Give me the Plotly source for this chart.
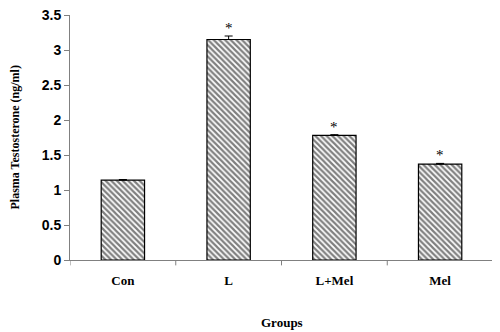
import plotly.graph_objects as go

groups = ["Con", "L", "L+Mel", "Mel"]
values = [1.14, 3.15, 1.78, 1.37]
errors = [0.01, 0.05, 0.01, 0.01]
marks = ["", "*", "*", "*"]
yticks = [0, 0.5, 1, 1.5, 2, 2.5, 3, 3.5]
ytick_text = ["0", "0.5", "1", "1.5", "2", "2.5", "3", "3.5"]

fig = go.Figure()
fig.add_trace(go.Bar(
    x=groups, y=values, width=0.41,
    marker=dict(color="white", line=dict(color="black", width=1.2),
                pattern=dict(shape="\\", fgcolor="black", bgcolor="white", size=4, solidity=0.55)),
    error_y=dict(type="data", array=errors, symmetric=False, arrayminus=[0]*4,
                 color="black", thickness=1, width=4),
    showlegend=False,
))

for g, v, e, m in zip(groups, values, errors, marks):
    if m:
        fig.add_annotation(x=g, y=v + e, text=m, showarrow=False, yanchor="bottom", yshift=-2,
                           font=dict(family="Liberation Serif", size=15, color="#000000"))

fig.add_annotation(xref="paper", yref="paper", x=0.5, y=0, yshift=-53, text="Groups",
                   showarrow=False, yanchor="top",
                   font=dict(family="Liberation Serif", size=13, color="black", weight="bold"))
fig.add_annotation(xref="paper", yref="paper", x=0, xshift=-56, y=0.5, text="Plasma Testosterone (ng/ml)",
                   showarrow=False, textangle=-90, xanchor="center",
                   font=dict(family="Liberation Serif", size=12, color="black", weight="bold"))

fig.update_layout(
    width=492, height=324,
    margin=dict(l=62, r=7, t=7, b=72, autoexpand=False),
    paper_bgcolor="white", plot_bgcolor="white",
    xaxis=dict(range=[-0.5, 3.5], showline=True, linecolor="#808080", linewidth=1, ticks="",
               automargin=False, ticklabelstandoff=8, ticklabeloverflow="allow",
               tickfont=dict(family="Liberation Serif", size=13, color="black", weight="bold"),
               showgrid=False),
    yaxis=dict(range=[0, 3.5], tickvals=yticks, ticktext=ytick_text, showline=True, linecolor="#808080",
               linewidth=1, ticks="outside", ticklen=5, tickcolor="#808080", automargin=False,
               ticklabeloverflow="allow",
               tickfont=dict(family="Liberation Sans", size=14, color="black", weight="bold"),
               showgrid=False, zeroline=False),
)

for b in [-0.5, 0.5, 1.5, 2.5, 3.5]:
    fig.add_shape(type="line", xref="x", yref="paper", x0=b, x1=b, y0=0, y1=-0.022,
                  line=dict(color="#808080", width=1))

fig.write_html("out.html")
